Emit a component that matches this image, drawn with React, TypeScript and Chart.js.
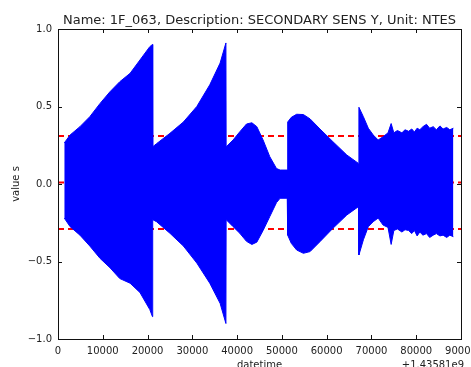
import React, { useEffect, useRef } from "react";
import { Chart, registerables } from "chart.js";

Chart.register(...registerables);

// ---- data ----
const titleText = "Name: 1F_063, Description: SECONDARY SENS Y, Unit: NTES";
const xAxisLabel = "datetime";
const yAxisLabel = "value s";
const offsetText = "+1.43581e9";

const xMin = 0;
const xMax = 90000;
const xStep = 10000;
const yMin = -1;
const yMax = 1;
const yStep = 0.5;

// envelope of the dense signal (time offset, upper / lower amplitude)
const envX = [
  1400, 2700, 4900, 7100, 9400, 11600, 13800, 16100, 18300, 20500, 21100,
  21150, 22000, 25000, 28000, 31000, 33900, 36200, 37500,
  37550, 39100, 40600, 42100, 43300, 44400, 45800, 47300, 48800, 49600, 51200,
  51300, 52100, 53300, 54800, 56300, 58500, 61400, 64500, 67100,
  67200, 68200, 69300, 70400, 71500, 72600, 73700, 74400, 75000, 75800, 76800,
  77500, 78300, 79000, 79600, 80200, 80800, 81500, 82300, 83000, 83800, 84500,
  85300, 86000, 86800, 87500, 88300,
];
const envUpper = [
  0.265, 0.316, 0.37, 0.434, 0.52, 0.595, 0.66, 0.714, 0.8, 0.886, 0.9,
  0.24, 0.26, 0.327, 0.4, 0.5, 0.64, 0.78, 0.91,
  0.24, 0.284, 0.337, 0.387, 0.395, 0.37, 0.284, 0.176, 0.1, 0.09, 0.09,
  0.4, 0.43, 0.45, 0.448, 0.42, 0.355, 0.273, 0.187, 0.133,
  0.495, 0.434, 0.36, 0.316, 0.284, 0.305, 0.33, 0.39, 0.33, 0.345, 0.33,
  0.35, 0.34, 0.355, 0.335, 0.36, 0.35, 0.37, 0.385, 0.36, 0.37, 0.35,
  0.375, 0.355, 0.365, 0.35, 0.36,
];
const envLower = [
  -0.22, -0.275, -0.33, -0.4, -0.48, -0.54, -0.61, -0.64, -0.7, -0.81, -0.856,
  -0.23, -0.243, -0.318, -0.4, -0.51, -0.64, -0.77, -0.9,
  -0.23, -0.275, -0.318, -0.37, -0.39, -0.375, -0.3, -0.21, -0.12, -0.092, -0.092,
  -0.33, -0.383, -0.426, -0.447, -0.436, -0.372, -0.286, -0.2, -0.146,
  -0.458, -0.36, -0.275, -0.243, -0.22, -0.265, -0.28, -0.39, -0.3, -0.29, -0.31,
  -0.295, -0.3, -0.32, -0.3, -0.335, -0.31, -0.33, -0.32, -0.345, -0.33, -0.32,
  -0.335, -0.33, -0.345, -0.33, -0.34,
];
const thresholds = [0.31, 0.01, -0.29];

const TEXT = "#222";
const FONT = '"DejaVu Sans", sans-serif';

const decor = {
  id: "decor",
  afterDatasetsDraw(chart: any) {
    const { ctx, chartArea: a, scales } = chart;
    const x = scales.x;
    const y = scales.y;
    ctx.save();
    ctx.strokeStyle = "#111";
    ctx.lineWidth = 1;
    const L = 4;
    ctx.beginPath();
    x.ticks.forEach((t: any) => {
      const px = Math.round(x.getPixelForValue(t.value)) + 0.5;
      ctx.moveTo(px, a.bottom);
      ctx.lineTo(px, a.bottom - L);
      ctx.moveTo(px, a.top);
      ctx.lineTo(px, a.top + L);
    });
    y.ticks.forEach((t: any) => {
      const py = Math.round(y.getPixelForValue(t.value)) + 0.5;
      ctx.moveTo(a.left, py);
      ctx.lineTo(a.left + L, py);
      ctx.moveTo(a.right, py);
      ctx.lineTo(a.right - L, py);
    });
    ctx.stroke();
    ctx.strokeRect(a.left + 0.5, a.top + 0.5, a.right - a.left, a.bottom - a.top);
    ctx.restore();
  },
  afterDraw(chart: any) {
    const { ctx, chartArea: a } = chart;
    const cx = (a.left + a.right) / 2;
    const cy = (a.top + a.bottom) / 2;
    ctx.save();
    ctx.fillStyle = TEXT;
    ctx.textBaseline = "alphabetic";
    ctx.textAlign = "center";
    ctx.font = `13px ${FONT}`;
    ctx.fillText(titleText, cx, a.top - 5);
    ctx.font = `10px ${FONT}`;
    ctx.fillText(xAxisLabel, cx, 368);
    ctx.textAlign = "right";
    ctx.fillText(offsetText, a.right + 3, 368);
    ctx.translate(19, cy);
    ctx.rotate(-Math.PI / 2);
    ctx.textAlign = "center";
    ctx.fillText(yAxisLabel, 0, 0);
    ctx.restore();
  },
};

export default function App() {
  const ref = useRef<HTMLCanvasElement | null>(null);
  useEffect(() => {
    document.body.style.margin = "0";
    const canvas = ref.current!;
    const upper = envX.map((v, i) => ({ x: v, y: envUpper[i] }));
    const lower = envX.map((v, i) => ({ x: v, y: envLower[i] }));
    const refLines = thresholds.map((t) => ({
      data: [
        { x: xMin, y: t },
        { x: xMax, y: t },
      ],
      borderColor: "#ff0000",
      borderWidth: 2,
      borderDash: [6, 4],
      pointRadius: 0,
      fill: false,
    }));
    const chart = new Chart(canvas, {
      type: "line",
      data: {
        datasets: [
          {
            data: upper,
            borderColor: "#0000ff",
            backgroundColor: "#0000ff",
            borderWidth: 1,
            pointRadius: 0,
            tension: 0,
            fill: "+1",
          },
          {
            data: lower,
            borderColor: "#0000ff",
            backgroundColor: "#0000ff",
            borderWidth: 1,
            pointRadius: 0,
            tension: 0,
            fill: false,
          },
          ...refLines,
        ] as any,
      },
      options: {
        animation: false,
        responsive: false,
        maintainAspectRatio: false,
        devicePixelRatio: 1,
        events: [],
        layout: { padding: { top: 29, right: 10, left: 0, bottom: 0 } },
        plugins: {
          legend: { display: false },
          tooltip: { enabled: false },
          title: { display: false },
        },
        scales: {
          x: {
            type: "linear",
            min: xMin,
            max: xMax,
            grid: { display: false, drawTicks: false },
            border: { display: false },
            ticks: {
              stepSize: xStep,
              autoSkip: false,
              maxRotation: 0,
              padding: 6,
              color: TEXT,
              font: { family: FONT, size: 10 },
              callback: (v: any) => String(v),
            },
            afterFit(scale: any) {
              scale.height = 28;
              scale.paddingLeft = 0;
              scale.paddingRight = 0;
            },
          },
          y: {
            type: "linear",
            min: yMin,
            max: yMax,
            grid: { display: false, drawTicks: false },
            border: { display: false },
            ticks: {
              stepSize: yStep,
              padding: 6,
              color: TEXT,
              font: { family: FONT, size: 10 },
              callback: (v: any) => Number(v).toFixed(1).replace("-", "\u2212"),
            },
            afterFit(scale: any) {
              scale.width = 58;
              scale.paddingTop = 0;
              scale.paddingBottom = 0;
            },
          },
        },
      },
      plugins: [decor],
    });
    return () => chart.destroy();
  }, []);
  return <canvas ref={ref} width={471} height={367} style={{ display: "block" }} />;
}
